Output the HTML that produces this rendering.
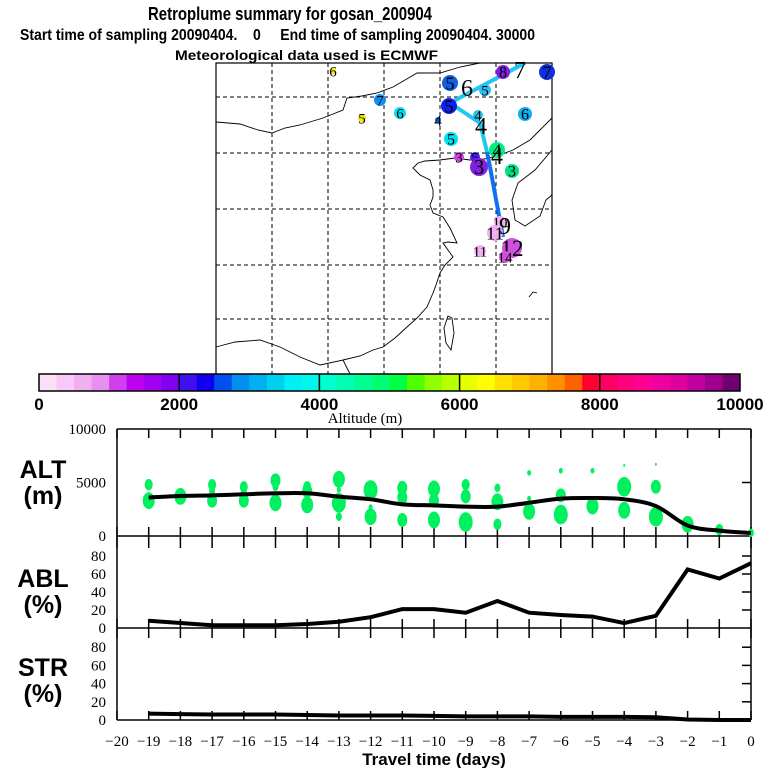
<!DOCTYPE html>
<html><head><meta charset="utf-8"><style>
html,body{margin:0;padding:0;background:#fff;width:768px;height:768px;overflow:hidden}
svg{display:block}
.ttl{font-family:"Liberation Sans",sans-serif;font-weight:bold;fill:#000}
.ser{font-family:"Liberation Serif",serif;fill:#000}
</style></head><body>
<svg id="chart" width="768" height="768" viewBox="0 0 768 768" xmlns="http://www.w3.org/2000/svg">
<text class="ttl" x="148" y="20" font-size="18" textLength="284" lengthAdjust="spacingAndGlyphs">Retroplume summary for gosan_200904</text>
<text class="ttl" x="20" y="40" font-size="16" textLength="515" lengthAdjust="spacingAndGlyphs" xml:space="preserve">Start time of sampling 20090404.    0     End time of sampling 20090404. 30000</text>
<text class="ttl" x="175" y="60" font-size="14" textLength="263" lengthAdjust="spacingAndGlyphs">Meteorological data used is ECMWF</text>
<g id="map">
<rect x="216" y="63" width="336" height="315" fill="#fff" stroke="#000" stroke-width="1.2"/>
<g stroke="#000" stroke-width="1" stroke-dasharray="4,3">
<line x1="272" y1="63" x2="272" y2="374"/><line x1="328" y1="63" x2="328" y2="374"/><line x1="384" y1="63" x2="384" y2="374"/><line x1="440" y1="63" x2="440" y2="374"/><line x1="496" y1="63" x2="496" y2="374"/>
<line x1="216" y1="97" x2="552" y2="97"/><line x1="216" y1="153" x2="552" y2="153"/><line x1="216" y1="209" x2="552" y2="209"/><line x1="216" y1="265" x2="552" y2="265"/><line x1="216" y1="319" x2="552" y2="319"/>
</g>
<g fill="none" stroke="#000" stroke-width="0.9">
<polyline points="216,122 240,124 258,130 272,133 285,128 300,125 323,118 343,110 347,98 362,96 377,93 393,87 405,80 417,73 440,73 460,67 480,63"/>
<polyline points="552,118 540,130 530,140 513,150 500,155 493,157 480,160 470,160 455,158 440,160 425,161 418,163 413,168 420,175 430,180 433,190 433,197 430,205 433,213 443,217 450,228 457,243 448,242 443,243 453,257 445,265 440,273 436,285 433,293 427,307 417,318 407,327 395,338 383,347 373,350 360,356 343,360"/>
<polyline points="216,347 235,342 260,340 280,347 300,357 320,365 343,360 350,374"/>
<polyline points="552,150 535,170 518,183 512,200 515,220 525,226 540,216 546,200 552,195"/>
<polygon points="448,316 452,318 454,333 451,350 446,343 444,328"/>
<polyline points="529,297 533,292 537,293"/>
</g>
</g>
<g id="colorbar"></g>
<g id="lower"></g>
</svg>
<script>
const NS="http://www.w3.org/2000/svg";
function mk(tag,attrs,parent,txt){const e=document.createElementNS(NS,tag);for(const k in attrs)e.setAttribute(k,attrs[k]);if(txt!==undefined)e.textContent=txt;parent.appendChild(e);return e;}
const map=document.getElementById('map');

// ---- map trajectory data ----
const trajX=[525,450,480,487,490,503];
const trajY=[63,103,123,152,167,237];
const trajColors=["#20c8f0","#20c8f0","#20c8f0","#1070f0","#1070f0"];
const markerX=[503,547,450,485,380,449,400,362,438,478,525,451,497,475,459,479,512,333,500,495,512,505,480];
const markerY=[72,72,83,90,100,106,113,118,120,115,114,139,150,157,157,167,171,71,222,233,248,257,251];
const markerR=[7,8,8,6,6,8,6,4,3,5,7,7,8,5,5,9,7,3,6,8,10,6,6];
const markerColor=["#8020e0","#1030e0","#1060e0","#30c0f0","#1090f0","#1020f0","#00e0f0","#f0f000","#1060e0","#30c0f0","#10b0f0","#00e0f0","#00f080","#4020f0","#d040e0","#8020e0","#00e080","#f0f000","#f0b0f0","#f0b0f0","#d050e0","#d050e0","#f0b0f0"];
const markerLabel=["8","7","5","5","7","5","6","5","4","4","6","5","4","5","3","3","3","6","10","11","12","14","11"];
const bigLabelX=[467,520,481,497,505];
const bigLabelY=[96,78,134,164,234];
const bigLabel=["6","7","4","4","9"];

for(let i=0;i<trajX.length-1;i++){
  const l=mk('line',{x1:trajX[i],y1:trajY[i],x2:trajX[i+1],y2:trajY[i+1],stroke:trajColors[i],'stroke-width':4},map);
  
  
}
for(let i=0;i<markerX.length;i++){
  const c=mk('circle',{cx:markerX[i],cy:markerY[i],r:markerR[i],fill:markerColor[i]},map);
  
  
  const fs=Math.max(15,markerR[i]*2.3);
  const t=mk('text',{x:markerX[i],y:markerY[i]+fs*0.35,'font-size':fs,'text-anchor':'middle',class:'ser'},map,markerLabel[i]);
  
  
}
for(let i=0;i<bigLabel.length;i++){
  const t=mk('text',{x:bigLabelX[i],y:bigLabelY[i],'font-size':24,'text-anchor':'middle',class:'ser'},map,bigLabel[i]);
  
  
}

// ---- colorbar ----
const cbColors=["#fde0f8","#f8c8f8","#f0b0f0","#e890f0","#d040f0","#c000f0","#a000f0","#8000f0",
"#4010f0","#1000f0","#0050f0","#0090f0","#00b0f0","#00d0f0","#00f0f8","#00f8e8",
"#00ffd0","#00ffb0","#00ff90","#00ff70","#00ff40","#50ff00","#90ff00","#b8ff00",
"#e8ff00","#ffff00","#ffe000","#ffc800","#ffb000","#ff9000","#ff6000","#ff0030",
"#ff0060","#ff0080","#ff0090","#f000a0","#e000a0","#c000a0","#a00090","#700070"];
const cbTicks=[0,2000,4000,6000,8000,10000];
const cb=document.getElementById('colorbar');
const cbX0=39,cbX1=740,cbY=374,cbH=17;
const cbx=v=>cbX0+(cbX1-cbX0)*v/10000;
cbColors.forEach((c,i)=>{
  const r=mk('rect',{x:cbX0+i*(cbX1-cbX0)/40,y:cbY,width:(cbX1-cbX0)/40+0.5,height:cbH,fill:c},cb);
  
  
});
mk('rect',{x:cbX0,y:cbY,width:cbX1-cbX0,height:cbH,fill:'none',stroke:'#000','stroke-width':1.5},cb);
cbTicks.forEach(v=>{
  if(v>0&&v<10000)mk('line',{x1:cbx(v),x2:cbx(v),y1:cbY,y2:cbY+cbH,stroke:'#000','stroke-width':1.5},cb);
  const t=mk('text',{x:cbx(v),y:410,'font-size':17,'text-anchor':'middle',class:'ttl'},cb,String(v));
  
  
});
const cbt=mk('text',{x:365,y:423,'font-size':15,'text-anchor':'middle',class:'ser'},cb,'Altitude (m)');



// ---- time series data ----
const days=[-19,-18,-17,-16,-15,-14,-13,-12,-11,-10,-9,-8,-7,-6,-5,-4,-3,-2,-1,0];
const altMean=[3600,3740,3800,3900,3990,3990,3680,3430,2960,2860,2740,2740,3110,3490,3550,3430,2800,980,500,280];
const ablPct=[8,5.5,3,3,3,4.5,7,12,21,21,17,30,17,14.5,12.7,5.5,13.5,65,55,72];
const strPct=[7,6.5,6,6,6,5.5,5,5,5,4.5,4,4,4,3.5,3.5,3.5,3,0.5,0,0];
const dotDay=[-19,-19,-18,-17,-17,-17,-16,-16,-16,-15,-15,-15,-14,-14,-14,-13,-13,-13,-13,-12,-12,-12,-11,-11,-11,-10,-10,-10,-9,-9,-9,-8,-8,-8,-7,-7,-7,-6,-6,-6,-5,-5,-4,-4,-4,-3,-3,-3,-2,-1,0];
const dotAlt=[4800,3300,3700,4800,4200,3300,4600,4000,3300,5200,4600,3100,4600,4200,2900,5300,4300,3100,1800,4300,2700,1800,4500,3600,1500,4400,3300,1500,4800,3700,1300,4500,3200,1100,5900,3500,2300,6100,3800,2000,6100,2800,4600,2400,6600,4600,6700,1800,1100,600,300];
const dotSize=[4,6,6,4,3,5,4,3,5,5,3,6,4,5,6,6,2,7,3,7,2,6,5,5,5,6,5,6,4,5,7,3,6,4,2,2,6,2,5,7,2,6,7,6,1,5,1,7,6,4,3];
const xTicks=[-20,-19,-18,-17,-16,-15,-14,-13,-12,-11,-10,-9,-8,-7,-6,-5,-4,-3,-2,-1,0];
const pctTicks=[0,20,40,60,80];

const XL=117,XR=751;
const xs=d=>XR+(d/20)*(XR-XL);
const yAlt=v=>536-v*107/10000;
const yAbl=v=>628-v*0.9;
const yStr=v=>720-v*0.91;
const lower=document.getElementById('lower');

function bl(x1,y1,x2,y2,w){return mk('line',{x1,y1,x2,y2,stroke:'#000','stroke-width':w||1},lower);}
bl(XL,429,XR,429,1.5);bl(XL,429,XL,720,1.5);bl(XR,429,XR,720,1.5);
bl(XL,536,XR,536,1.5);bl(XL,628,XR,628,1.5);bl(XL,720,XR,720,1.5);
xTicks.forEach(d=>{const x=xs(d);
  bl(x,429,x,438,1.5);bl(x,527,x,548,1.5);bl(x,619,x,638,1.5);bl(x,711,x,720,1.5);
  const t=mk('text',{x:x,y:746,'font-size':15,'text-anchor':'middle',class:'ser'},lower,d<0?'\u2212'+(-d):String(d));
  
  
});
[[10000,'10000'],[5000,'5000'],[0,'0']].forEach(([v,s])=>{
  if(v===5000)bl(XR-9,yAlt(v),XR,yAlt(v),1.5);
  const t=mk('text',{x:106,y:yAlt(v)+5,'font-size':15,'text-anchor':'end',class:'ser'},lower,s);
  
  
});
pctTicks.forEach(v=>{
  if(v>0){bl(XR-9,yAbl(v),XR,yAbl(v),1.5);bl(XR-9,yStr(v),XR,yStr(v),1.5);}
  const a=mk('text',{x:106,y:yAbl(v)+5,'font-size':15,'text-anchor':'end',class:'ser'},lower,String(v));
  
  
  const b=mk('text',{x:106,y:yStr(v)+5,'font-size':15,'text-anchor':'end',class:'ser'},lower,String(v));
  
  
});
[['ALT','(m)',478,'alt-panel-label'],['ABL','(%)',587,'abl-panel-label'],['STR','(%)',676,'str-panel-label']].forEach(([a,b,y,n])=>{
  const t=mk('text',{x:43,y:y,'font-size':25,'text-anchor':'middle',class:'ttl'},lower,a);
  
  
  const u=mk('text',{x:43,y:y+26,'font-size':25,'text-anchor':'middle',class:'ttl'},lower,b);
  
  
});
const xt=mk('text',{x:434,y:765,'font-size':17,'text-anchor':'middle',class:'ttl'},lower,'Travel time (days)');



for(let i=0;i<dotDay.length;i++){
  const e=mk('ellipse',{cx:xs(dotDay[i]),cy:yAlt(dotAlt[i]),rx:dotSize[i],ry:dotSize[i]*1.4,fill:'#00f060'},lower);
  
  
}
function smooth(px,py){let d='M'+px[0]+','+py[0];
  for(let i=0;i<px.length-1;i++){const p0=i?i-1:i,p3=i+2<px.length?i+2:i+1;
    const c1x=px[i]+(px[i+1]-px[p0])/6,c1y=py[i]+(py[i+1]-py[p0])/6;
    const c2x=px[i+1]-(px[p3]-px[i])/6,c2y=py[i+1]-(py[p3]-py[i])/6;
    d+=` C${c1x},${c1y} ${c2x},${c2y} ${px[i+1]},${py[i+1]}`;}
  return d;}
const altLine=mk('path',{d:smooth(days.map(xs),altMean.map(yAlt)),fill:'none',stroke:'#000','stroke-width':4},lower);


const ablLine=mk('polyline',{points:days.map((d,i)=>xs(d)+','+yAbl(ablPct[i])).join(' '),fill:'none',stroke:'#000','stroke-width':4},lower);


const strLine=mk('polyline',{points:days.map((d,i)=>xs(d)+','+yStr(strPct[i])).join(' '),fill:'none',stroke:'#000','stroke-width':4},lower);


</script>
</body></html>
